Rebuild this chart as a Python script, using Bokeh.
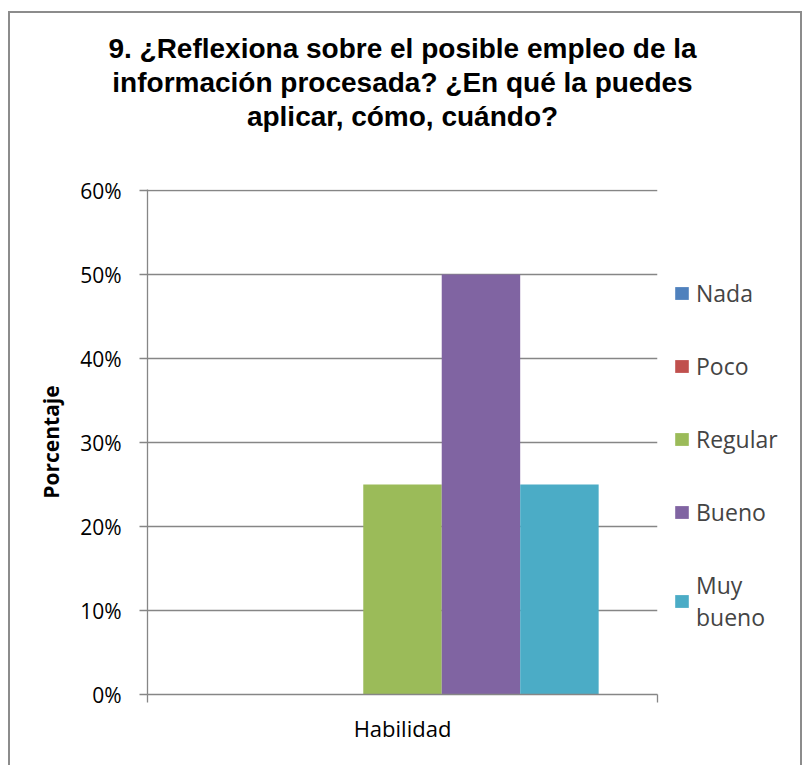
from bokeh.plotting import figure
from bokeh.models import (Range1d, FixedTicker, NumeralTickFormatter,
                          Legend, LegendItem, Title)
from bokeh.transform import dodge
from bokeh.embed import file_html
from bokeh.resources import INLINE

# ---- data ----
category = ["Habilidad"]
category_pos = [0.5]          # centre of the single category slot on a 0..1 axis
series = ["Nada", "Poco", "Regular", "Bueno", "Muy bueno"]
legend_labels = ["Nada", "Poco", "Regular", "Bueno", "Muy\nbueno"]
values = [0.0, 0.0, 0.25, 0.50, 0.25]
colors = ["#4F81BD", "#C0504D", "#9BBB59", "#8064A2", "#4BACC6"]
y_ticks = [0, 0.1, 0.2, 0.3, 0.4, 0.5, 0.6]
title_lines = ["9. ¿Reflexiona sobre el posible empleo de la",
               "información procesada? ¿En qué la puedes",
               "aplicar, cómo, cuándo?"]

GRAY = "#868686"
BODY_FONT = "Open Sans"

# canvas starts at (10, 13) in the page because of the chart-area border/margin
OX, OY = 10, 13
p = figure(frame_width=657 - 147, frame_height=694 - 189, x_range=Range1d(0, 1),
           y_range=Range1d(0, 0.6012), output_backend="svg", toolbar_location=None,
           min_border_left=147 - OX, min_border_right=804 - 657,
           min_border_top=189 - OY, min_border_bottom=765 - 694)
p.styles = {"margin-left": "8px", "margin-top": "11px",
            "max-width": "794px", "overflow": "hidden",
            "border-left": "2px solid #8c8c8c", "border-top": "2px solid #8c8c8c",
            "border-right": "2px solid #8c8c8c"}
p.outline_line_color = None
p.xgrid.visible = False
p.ygrid.grid_line_color = GRAY
p.ygrid.grid_line_width = 1.3
p.ygrid.ticker = FixedTicker(ticks=y_ticks)

bar_w = 1 / 6.5
n = len(series)
renderers = []
for i, (s, v, c) in enumerate(zip(series, values, colors)):
    off = (i - (n - 1) / 2) * bar_w
    r = p.vbar(x=dodge("x", off), top="top", width=bar_w,
               source=dict(x=category_pos, top=[v]), fill_color=c, line_color=None)
    renderers.append(r)

# y axis
ya = p.yaxis[0]
ya.ticker = FixedTicker(ticks=y_ticks, minor_ticks=[])
ya.formatter = NumeralTickFormatter(format="0%")
ya.axis_line_color = GRAY
ya.axis_line_width = 1.3
ya.major_tick_line_color = GRAY
ya.major_tick_line_width = 1.3
ya.major_tick_out = 8
ya.major_tick_in = 0
ya.minor_tick_line_color = None
ya.major_label_text_font = BODY_FONT
ya.major_label_text_font_size = "21px"
ya.major_label_text_color = "#000000"
ya.major_label_standoff = 18
ya.axis_label = "Porcentaje"
ya.axis_label_text_font = BODY_FONT
ya.axis_label_text_font_size = "21px"
ya.axis_label_text_font_style = "bold"
ya.axis_label_text_color = "#000000"
ya.axis_label_standoff = 12

# x axis: ticks at category boundaries, label at the category centre
xa = p.xaxis[0]
xa.ticker = FixedTicker(ticks=category_pos, minor_ticks=[0, 1])
xa.major_label_overrides = {category_pos[0]: category[0]}
xa.axis_line_color = GRAY
xa.axis_line_width = 1.3
xa.major_tick_line_color = None
xa.minor_tick_line_color = GRAY
xa.minor_tick_line_width = 1.3
xa.minor_tick_out = 8
xa.minor_tick_in = 0
xa.major_label_text_font = BODY_FONT
xa.major_label_text_font_size = "22px"
xa.major_label_text_color = "#000000"
xa.major_label_standoff = 10

# legend in the right-hand panel
items = [LegendItem(label=l, renderers=[r]) for l, r in zip(legend_labels, renderers)]
leg = Legend(items=items, location=(16, 61), glyph_width=17, glyph_height=16,
             label_text_font=BODY_FONT, label_text_font_size="23px",
             label_standoff=6, spacing=41, padding=0, margin=0,
             border_line_color=None, background_fill_alpha=0)
p.add_layout(leg, "right")

# title: a spacer next to the plot, then one centred Title per line (inner to outer)
p.add_layout(Title(text=" ", text_font_size="1px", standoff=54), "above")
for line in reversed(title_lines):
    t = Title(text=line, align="center", text_font="Liberation Sans",
              text_font_size="28px", text_font_style="bold", text_color="#000000",
              standoff=1)
    p.add_layout(t, "above")

open("out.html", "w").write(file_html(p, INLINE))
